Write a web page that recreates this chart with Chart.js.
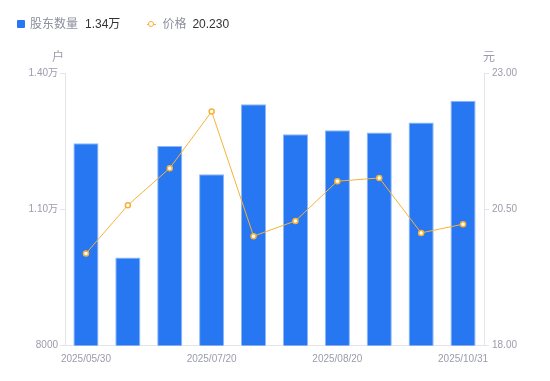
<!DOCTYPE html>
<html>
<head>
<meta charset="utf-8">
<script src="https://cdn.jsdelivr.net/npm/chart.js@4/dist/chart.umd.min.js"></script>
<style>
  html, body { margin: 0; padding: 0; background: #fff; }
  #wrap { position: relative; width: 550px; height: 381px; font-family: "Liberation Sans", "Noto Sans CJK SC", sans-serif; }
  #legend { position: absolute; left: 17px; top: 16px; font-size: 12px; line-height: 16px; display: flex; align-items: center; }
  .item { display: flex; align-items: center; margin-right: 27px; }
  .sq { width: 8px; height: 8px; background: #2777f2; border-radius: 1px; margin-right: 5px; }
  .ln { position: relative; width: 9px; height: 8px; margin-right: 6px; }
  .ln:before { content: ""; position: absolute; left: 0; right: 0; top: 3.5px; height: 1px; background: #f7b236; }
  .ln:after { content: ""; position: absolute; left: 1px; top: 0.5px; width: 4px; height: 4px; border: 1.5px solid #f7b236; border-radius: 50%; background: #fff; }
  .lab { color: #8c8f9c; margin-right: 7px; }
  .val { color: #333; }
</style>
</head>
<body>
<div id="wrap">
  <canvas id="c" width="550" height="381"></canvas>
  <div id="legend"></div>
</div>
<script>
const categories = ["2025/05/30","2025/06/20","2025/06/30","2025/07/20","2025/07/31","2025/08/10","2025/08/20","2025/08/31","2025/09/30","2025/10/31"];
const holders = [12460, 9940, 12400, 11780, 13320, 12660, 12750, 12700, 12920, 13400];
const prices = [19.69, 20.58, 21.26, 22.30, 20.01, 20.29, 21.02, 21.08, 20.07, 20.23];
const shownTickIdx = [0, 3, 6, 9];
const leftTicks = [8000, 11000, 14000];
const rightTicks = [18.00, 20.50, 23.00];

const BLUE = '#2777f2';
const ORANGE = '#f7b236';
const GRAY = '#9a9caa';
const LINE = '#e3e3e8';

function fmtHolders(v) { return v >= 10000 ? (v / 10000).toFixed(2) + '万' : String(v); }

document.getElementById('legend').innerHTML =
  '<div class="item"><div class="sq"></div><span class="lab">股东数量</span><span class="val">' + fmtHolders(holders[holders.length-1]) + '</span></div>' +
  '<div class="item"><div class="ln"></div><span class="lab" style="margin-right:6px">价格</span><span class="val">' + prices[prices.length-1].toFixed(3) + '</span></div>';

const titles = {
  id: 'axisTitles',
  afterDraw(chart) {
    const ctx = chart.ctx;
    ctx.save();
    ctx.font = '12px "Liberation Sans", "Noto Sans CJK SC", sans-serif';
    ctx.fillStyle = GRAY;
    ctx.textBaseline = 'middle';
    ctx.textAlign = 'center';
    ctx.fillText('户', chart.scales.y.right - 7, chart.chartArea.top - 16);
    ctx.fillText('元', chart.scales.y1.left + 5, chart.chartArea.top - 16);
    ctx.restore();
  }
};

const tickFont = { size: 10, family: '"Liberation Sans", "Noto Sans CJK SC", sans-serif' };

new Chart(document.getElementById('c'), {
  data: {
    labels: categories,
    datasets: [
      {
        type: 'line', label: '价格', data: prices, yAxisID: 'y1',
        borderColor: ORANGE, borderWidth: 1, backgroundColor: '#fff',
        pointRadius: 2.5, pointBorderWidth: 1.5, pointBorderColor: ORANGE, pointBackgroundColor: '#fff',
        tension: 0, order: 0
      },
      {
        type: 'bar', label: '股东数量', data: holders, yAxisID: 'y',
        backgroundColor: BLUE, borderColor: '#8db8fa', borderWidth: 1,
        categoryPercentage: 0.6, barPercentage: 1.0, order: 1
      }
    ]
  },
  options: {
    responsive: false, animation: false,
    layout: { padding: { top: 73.5, left: 0, right: 0, bottom: 0 } },
    plugins: { legend: { display: false }, tooltip: { enabled: false } },
    scales: {
      x: {
        afterFit(s) { s.height = 35.5; },
        grid: { display: true, drawOnChartArea: false, drawTicks: false },
        border: { display: true, color: LINE },
        ticks: {
          autoSkip: false, maxRotation: 0, padding: 8, color: GRAY, font: tickFont,
          callback(v, i) { return shownTickIdx.includes(i) ? categories[i] : ''; }
        }
      },
      y: {
        position: 'left', min: 8000, max: 14000,
        afterFit(s) { s.width = 65; },
        afterBuildTicks(s) { s.ticks = leftTicks.map(v => ({ value: v })); },
        grid: { display: true, drawOnChartArea: false, tickLength: 5, color: LINE },
        border: { display: true, color: LINE },
        ticks: { color: GRAY, font: tickFont, padding: 2, callback: v => fmtHolders(v) }
      },
      y1: {
        position: 'right', min: 18, max: 23,
        afterFit(s) { s.width = 66; },
        afterBuildTicks(s) { s.ticks = rightTicks.map(v => ({ value: v })); },
        grid: { display: true, drawOnChartArea: false, tickLength: 5, color: LINE },
        border: { display: true, color: LINE },
        ticks: { color: GRAY, font: tickFont, padding: 3, callback: v => Number(v).toFixed(2) }
      }
    }
  },
  plugins: [titles]
});
</script>
</body>
</html>
